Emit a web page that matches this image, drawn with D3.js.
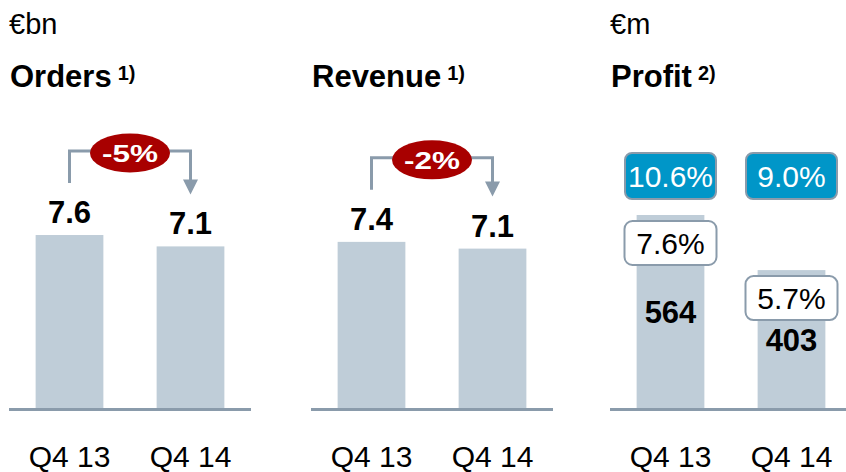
<!DOCTYPE html>
<html><head><meta charset="utf-8">
<script src="https://cdn.jsdelivr.net/npm/d3@7/dist/d3.min.js"></script>
<style>
html,body{margin:0;padding:0;background:#fff;}
text{font-family:"Liberation Sans",Arial,sans-serif;}
</style></head>
<body><svg id="c" width="846" height="472"></svg>
<script>
const categories = ["Q4 13", "Q4 14"];
const ordersValues = [7.6, 7.1];
const revenueValues = [7.4, 7.1];
const profitValues = [564, 403];
const profitMarginTop = ["10.6%", "9.0%"];
const profitMarginInner = ["7.6%", "5.7%"];
const changeLabels = ["-5%", "-2%"];
const panelTitles = ["Orders", "Revenue", "Profit"];
const panelNotes = ["1)", "1)", "2)"];
const unitLabels = ["€bn", null, "€m"];

const svg = d3.select("#c");
const barColor = "#bfcdd8", lineColor = "#8a9bab", red = "#a80000", blue = "#0096c8";
const baseY = 408;
const panels = [
  {x0: 9, vals: ordersValues, k: 22.76, change: changeLabels[0]},
  {x0: 311, vals: revenueValues, k: 22.45, change: changeLabels[1]},
  {x0: 610, vals: profitValues, k: 0.3422, profit: true}
];

panels.forEach((p, i) => {
  const g = svg.append("g");
  const x = d3.scaleBand().domain(categories).range([p.x0, p.x0 + 242]).paddingInner(0.44).paddingOuter(0.22);
  const maxV = d3.max(p.vals);
  const y = d3.scaleLinear().domain([0, maxV]).range([baseY, baseY - maxV * p.k]);
  const cx = c => x(c) + x.bandwidth() / 2;

  // unit and title
  if (unitLabels[i]) g.append("text").attr("x", p.x0).attr("y", 34).attr("font-size", 29).attr("fill", "#000").text(unitLabels[i]);
  const t = g.append("text").attr("x", p.x0 + 1).attr("y", 87).attr("font-size", 31).attr("font-weight", "bold").attr("fill", "#000");
  t.append("tspan").text(panelTitles[i]);
  t.append("tspan").attr("dx", 6).attr("dy", -7).attr("font-size", 20).text(panelNotes[i]);

  // bars
  g.selectAll("rect.bar").data(p.vals).join("rect").attr("class", "bar")
    .attr("x", (d, j) => x(categories[j])).attr("width", x.bandwidth())
    .attr("y", d => y(d)).attr("height", d => baseY - y(d)).attr("fill", barColor);

  // axis line
  g.append("line").attr("x1", p.x0).attr("x2", p.x0 + 242).attr("y1", baseY + 1.5).attr("y2", baseY + 1.5)
    .attr("stroke", lineColor).attr("stroke-width", 3);

  // category labels
  g.selectAll("text.cat").data(categories).join("text").attr("class", "cat")
    .attr("x", d => cx(d)).attr("y", 467).attr("text-anchor", "middle").attr("font-size", 30).attr("fill", "#000").text(d => d);

  if (!p.profit) {
    // value labels
    g.selectAll("text.val").data(p.vals).join("text").attr("class", "val")
      .attr("x", (d, j) => cx(categories[j])).attr("y", d => y(d) - 12)
      .attr("text-anchor", "middle").attr("font-size", 31).attr("font-weight", "bold").attr("fill", "#000")
      .text(d => d.toFixed(1));
    // bracket arrow
    const xa = cx(categories[0]), xb = cx(categories[1]);
    const yTop = y(p.vals[0]);
    const hy = yTop - 84;
    const tipY = y(p.vals[1]) - 52;
    g.append("path").attr("d", `M${xa},${yTop - 52}V${hy}H${xb}V${tipY - 14}`)
      .attr("fill", "none").attr("stroke", lineColor).attr("stroke-width", 3);
    g.append("path").attr("d", `M${xb - 7.5},${tipY - 15}L${xb + 7.5},${tipY - 15}L${xb},${tipY}Z`).attr("fill", lineColor);
    const mx = (xa + xb) / 2;
    g.append("ellipse").attr("cx", mx).attr("cy", hy + 2).attr("rx", 40).attr("ry", 19.5).attr("fill", red);
    g.append("text").attr("x", mx - 28).attr("y", hy + 11).attr("font-size", 24)
      .attr("textLength", 56).attr("lengthAdjust", "spacingAndGlyphs")
      .attr("font-weight", "bold").attr("fill", "#fff").text(p.change);
  } else {
    categories.forEach((c, j) => {
      const bx = cx(c);
      // blue margin boxes
      g.append("rect").attr("x", bx - 45.5).attr("y", 153).attr("width", 91).attr("height", 46).attr("rx", 7)
        .attr("fill", blue).attr("stroke", lineColor).attr("stroke-width", 2);
      g.append("text").attr("x", bx).attr("y", 187).attr("text-anchor", "middle").attr("font-size", 30)
        .attr("fill", "#fff").text(profitMarginTop[j]);
      // inner white boxes
      const top = y(p.vals[j]) + 6;
      g.append("rect").attr("x", bx - 46).attr("y", top).attr("width", 92).attr("height", 44).attr("rx", 8)
        .attr("fill", "#fff").attr("stroke", lineColor).attr("stroke-width", 2);
      g.append("text").attr("x", bx).attr("y", top + 33).attr("text-anchor", "middle").attr("font-size", 30)
        .attr("fill", "#000").text(profitMarginInner[j]);
      // value label centred in bar
      const mid = (y(p.vals[j]) + baseY) / 2;
      g.append("text").attr("x", bx).attr("y", mid + 12).attr("text-anchor", "middle").attr("font-size", 31)
        .attr("font-weight", "bold").attr("fill", "#000").text(p.vals[j]);
    });
  }
});
</script></body></html>
